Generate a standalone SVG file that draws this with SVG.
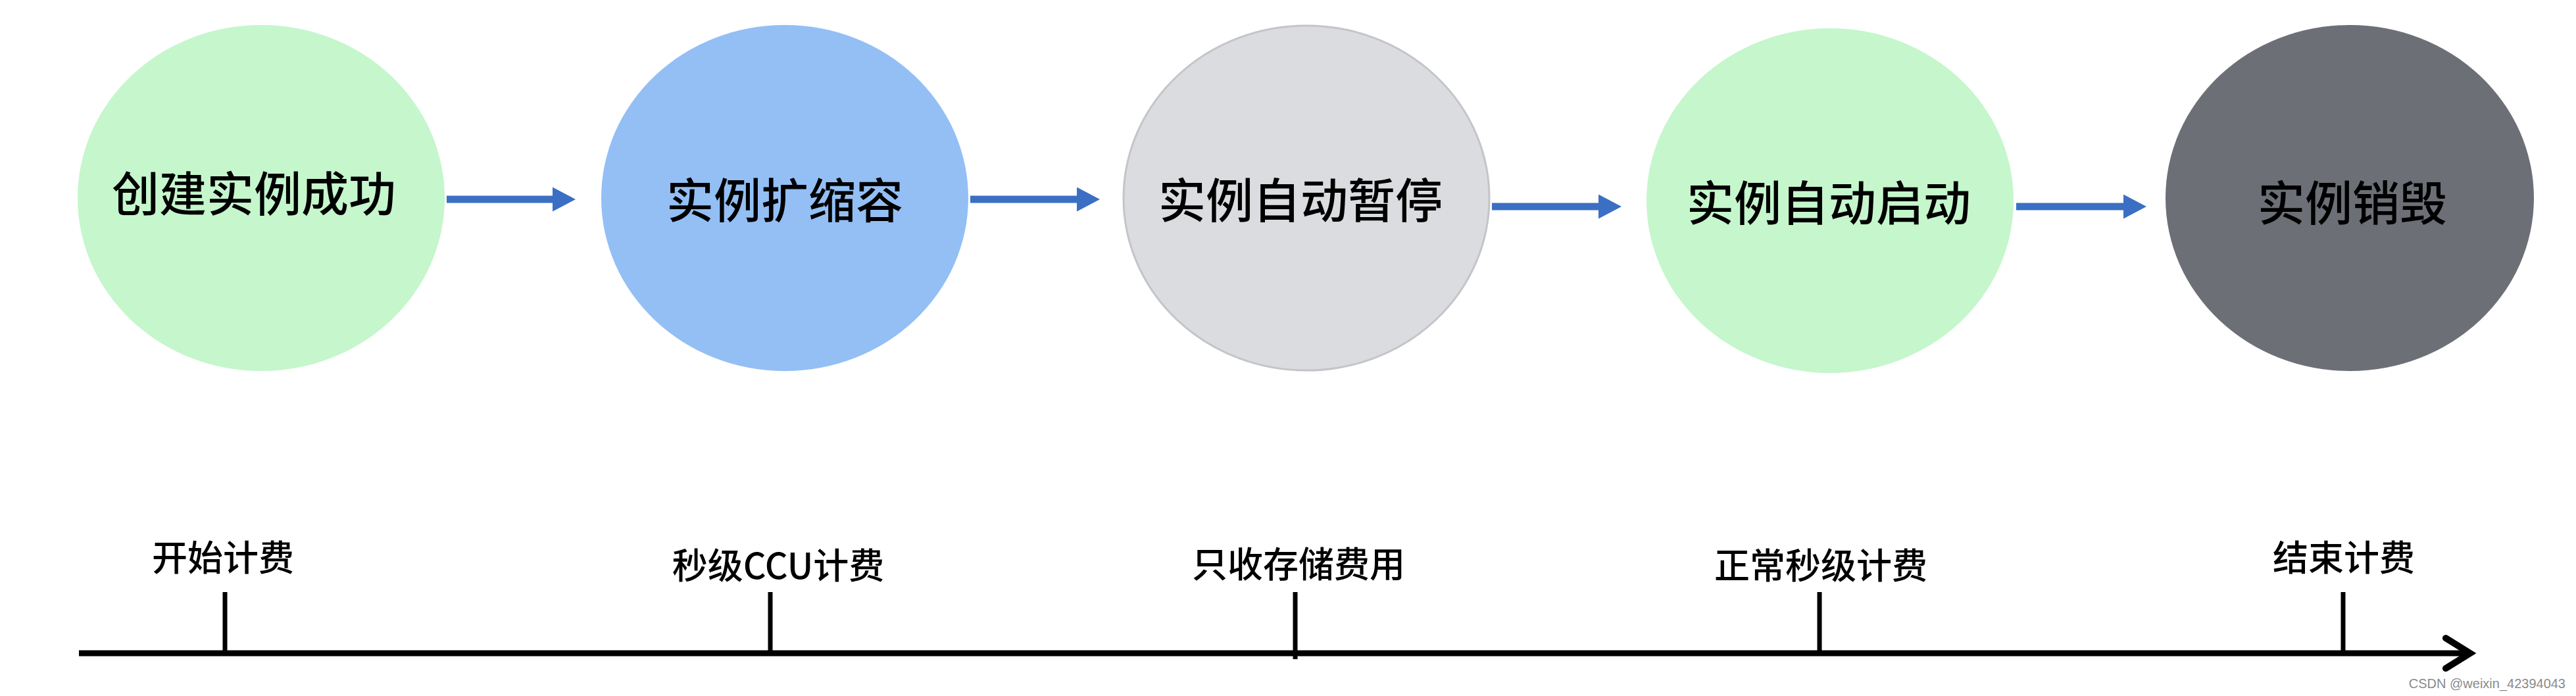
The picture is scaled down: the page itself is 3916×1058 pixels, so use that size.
<svg xmlns="http://www.w3.org/2000/svg" width="3916" height="1058" viewBox="0 0 3916 1058">
<style>
.node-text{font-family:"Noto Sans CJK SC","Noto Sans",sans-serif;font-size:72px;font-weight:500;fill:#000;text-anchor:middle}
.label{font-family:"Noto Sans CJK SC","Noto Sans",sans-serif;font-size:54px;font-weight:500;fill:#000;text-anchor:middle}
.flow{stroke:#3B6FC3;stroke-width:11;fill:none}
.tick{stroke:#000;stroke-width:7}
.green{fill:#C5F6CC}
</style>
<defs>
<marker id="bluehead" markerUnits="userSpaceOnUse" markerWidth="36" markerHeight="38" refX="0" refY="18.5" orient="auto">
<path d="M0,0 L35,18.5 L0,37 Z" fill="#3B6FC3"/>
</marker>
</defs>
<rect width="3916" height="1058" fill="#FFFFFF"/>
<g id="node1">
<ellipse class="green" cx="397" cy="301" rx="279" ry="263"/>
<text class="node-text" x="386" y="321">创建实例成功</text>
</g>
<g id="node2">
<ellipse cx="1193" cy="301" rx="279" ry="263" fill="#93BFF5"/>
<text class="node-text" x="1193" y="331">实例扩缩容</text>
</g>
<g id="node3">
<ellipse cx="1986" cy="301" rx="278" ry="262" fill="#DBDCE0" stroke="#C4C5C9" stroke-width="3"/>
<text class="node-text" x="1977" y="331">实例自动暂停</text>
</g>
<g id="node4">
<ellipse class="green" cx="2782" cy="305" rx="279" ry="262"/>
<text class="node-text" x="2780" y="335">实例自动启动</text>
</g>
<g id="node5">
<ellipse cx="3572" cy="301" rx="280" ry="263" fill="#6C6F76"/>
<text class="node-text" x="3576" y="335">实例销毁</text>
</g>
<g id="connectors">
<line class="flow" x1="679" y1="303" x2="840" y2="303" marker-end="url(#bluehead)"/>
<line class="flow" x1="1475" y1="303" x2="1637" y2="303" marker-end="url(#bluehead)"/>
<line class="flow" x1="2268" y1="314" x2="2430" y2="314" marker-end="url(#bluehead)"/>
<line class="flow" x1="3065" y1="314" x2="3228" y2="314" marker-end="url(#bluehead)"/>
</g>
<g id="timeline">
<line x1="120" y1="993" x2="3752" y2="993" stroke="#000" stroke-width="9"/>
<polyline points="3718,970 3755,993 3718,1016" fill="none" stroke="#000" stroke-width="10" stroke-linejoin="miter" stroke-linecap="round"/>
<line class="tick" x1="342" y1="900" x2="342" y2="993"/>
<line class="tick" x1="1171" y1="900" x2="1171" y2="993"/>
<line class="tick" x1="1969" y1="900" x2="1969" y2="1002"/>
<line class="tick" x1="2766" y1="900" x2="2766" y2="993"/>
<line class="tick" x1="3562" y1="900" x2="3562" y2="993"/>
</g>
<g id="labels">
<text class="label" x="339" y="868">开始计费</text>
<text class="label" x="1183" y="880">秒级CCU计费</text>
<text class="label" x="1974" y="878">只收存储费用</text>
<text class="label" x="2768" y="880">正常秒级计费</text>
<text class="label" x="3563" y="868">结束计费</text>
</g>
<text x="3900" y="1046" font-family="Liberation Sans Narrow,Liberation Sans,sans-serif" font-size="20" fill="#8A8A8A" text-anchor="end">CSDN @weixin_42394043</text>
</svg>
